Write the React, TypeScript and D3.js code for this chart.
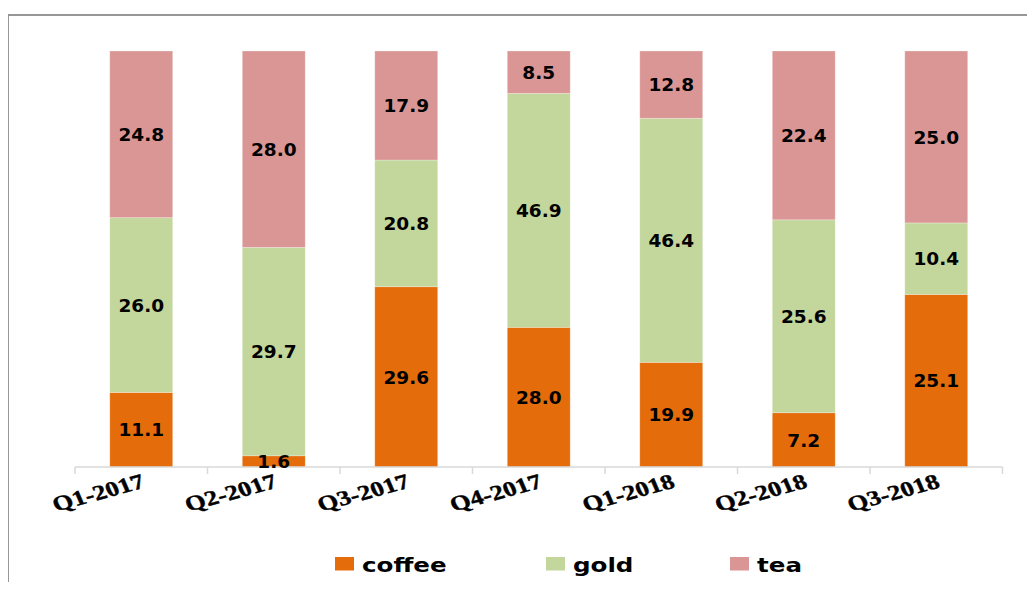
import React from "react";
import * as d3 from "d3";

const categories = ["Q1-2017", "Q2-2017", "Q3-2017", "Q4-2017", "Q1-2018", "Q2-2018", "Q3-2018"];
const coffee = [11.1, 1.6, 29.6, 28.0, 19.9, 7.2, 25.1];
const gold = [26.0, 29.7, 20.8, 46.9, 46.4, 25.6, 10.4];
const tea = [24.8, 28.0, 17.9, 8.5, 12.8, 22.4, 25.0];
const seriesNames = ["coffee", "gold", "tea"];
const seriesColors = ["#E46C0A", "#C3D69B", "#D99694"];

const W = 1035;
const H = 590;
const left = 75;
const right = 1002.5;
const top = 51;
const bottom = 467;
const SX = 1.26;

export default function App() {
  const seriesValues = [coffee, gold, tea];
  const rows = categories.map((c, i) => {
    const r: any = { cat: c };
    seriesNames.forEach((s, k) => (r[s] = seriesValues[k][i]));
    return r;
  });
  const stacked = d3.stack().keys(seriesNames).offset(d3.stackOffsetExpand)(rows);

  const x = d3.scaleBand().domain(categories).range([left, right]).paddingInner(0.525).paddingOuter(0.2625);
  const y = d3.scaleLinear().domain([0, 1]).range([bottom, top]);
  const step = x.step();

  const legendX = [335, 546, 730];

  return (
    <div style={{ margin: -8 }}>
      <svg width={W} height={H} style={{ display: "block", background: "#fff" }}>
        <rect x={8} y={15} width={1200} height={700} fill="#fff" stroke="#8c8c8c" strokeWidth={1.8} />
        {stacked.map((layer, k) => (
          <g key={seriesNames[k]}>
            {layer.map((d: any, i: number) => (
              <rect
                key={i}
                x={x(categories[i])!}
                y={y(d[1])}
                width={x.bandwidth()}
                height={y(d[0]) - y(d[1])}
                fill={seriesColors[k]}
                stroke="#ffffff"
                strokeOpacity={0.35}
                strokeWidth={0.8}
              />
            ))}
          </g>
        ))}
        <line x1={left} x2={right} y1={bottom} y2={bottom} stroke="#d9d9d9" strokeWidth={1.5} />
        {d3.range(categories.length + 1).map((i) => (
          <line key={i} x1={left + i * step} x2={left + i * step} y1={bottom} y2={bottom + 7} stroke="#d9d9d9" strokeWidth={1.5} />
        ))}
        {stacked.map((layer, k) => (
          <g key={"l" + k}>
            {layer.map((d: any, i: number) => (
              <text
                key={i}
                x={x(categories[i])! + x.bandwidth() / 2}
                y={(y(d[0]) + y(d[1])) / 2}
                dy="0.36em"
                textAnchor="middle"
                fontFamily="DejaVu Sans"
                fontWeight="bold"
                fontSize={18.5}
                fill="#000"
              >
                {seriesValues[k][i].toFixed(1)}
              </text>
            ))}
          </g>
        ))}
        {categories.map((c) => (
          <text
            key={c}
            transform={`translate(${x(c)! + x.bandwidth() / 2 + 5},${bottom + 20}) scale(${SX},1) rotate(-19)`}
            textAnchor="end"
            stroke="#000"
            strokeWidth={0.4}
            style={{ fontFamily: "'Liberation Serif', 'Times New Roman', serif", fontWeight: 700, fontSize: "21px" }}
            fill="#000"
          >
            {c}
          </text>
        ))}
        {seriesNames.map((s, k) => (
          <g key={s}>
            <rect x={legendX[k]} y={557} width={19} height={13.5} fill={seriesColors[k]} />
            <text
              transform={`translate(${legendX[k] + 27},${571.5}) scale(${SX},1)`}
              fontFamily="DejaVu Sans"
              fontWeight="bold"
              fontSize={19.5}
              fill="#000"
            >
              {s}
            </text>
          </g>
        ))}
      </svg>
    </div>
  );
}
